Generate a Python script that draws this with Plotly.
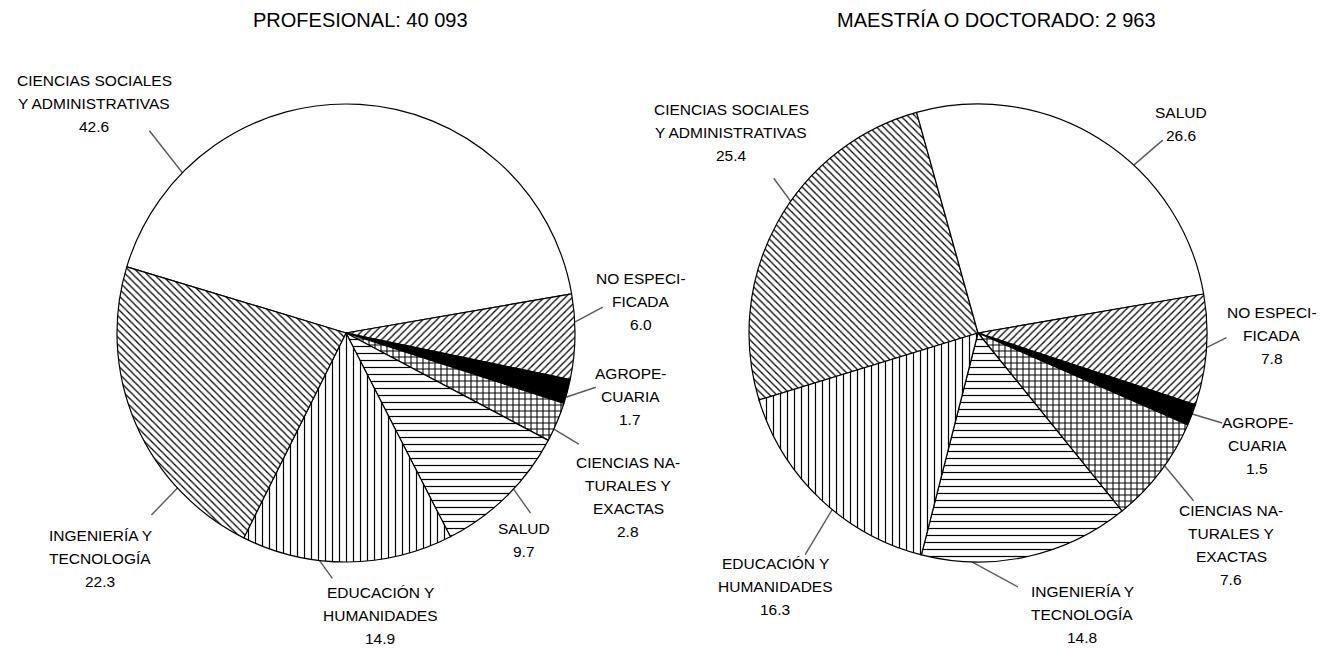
import math
import plotly.graph_objects as go

W, H = 1321, 648

# ---------------- data ----------------
prof_title = "PROFESIONAL: 40 093"
prof_categories = ["CIENCIAS SOCIALES\nY ADMINISTRATIVAS", "NO ESPECI-\nFICADA", "AGROPE-\nCUARIA",
                   "CIENCIAS NA-\nTURALES Y\nEXACTAS", "SALUD", "EDUCACIÓN Y\nHUMANIDADES",
                   "INGENIERÍA Y\nTECNOLOGÍA"]
prof_values = [42.6, 6.0, 1.7, 2.8, 9.7, 14.9, 22.3]

mae_title = "MAESTRÍA O DOCTORADO: 2 963"
mae_categories = ["CIENCIAS SOCIALES\nY ADMINISTRATIVAS", "SALUD", "NO ESPECI-\nFICADA", "AGROPE-\nCUARIA",
                  "CIENCIAS NA-\nTURALES Y\nEXACTAS", "INGENIERÍA Y\nTECNOLOGÍA", "EDUCACIÓN Y\nHUMANIDADES"]
mae_values = [25.4, 26.6, 7.8, 1.5, 7.6, 14.8, 16.3]

# ---------------- layout / style ----------------
FONT = "Liberation Sans, Arial, sans-serif"
LABEL_SIZE = 15.5
TITLE_SIZE = 20
LINE_STEP = 23
LEADER_COLOR = "#5a5a5a"

pies = [
    dict(title=prof_title, cats=prof_categories, vals=prof_values,
         cx=346, cy=333, r=229, rotation=-73.2, title_xy=(360, 20),
         shapes=["", "/", "", "+", "-", "|", "\\"],
         colors=["white", "white", "black", "white", "white", "white", "white"],
         leader_frac=[0.18, 0.33, 0.74, 0.69, 0.43, 0.63, 0.26],
         leader_vec=[(-33, -42), (28, -15), (30, -10), (25, 15), (17, 24), (13, 18), (-26, 27)],
         label_pos=[(94, 80), (641, 278), (630, 373), (628, 462), (524, 528), (380, 592), (100, 535)]),
    dict(title=mae_title, cats=mae_categories, vals=mae_values,
         cx=978, cy=333, r=229, rotation=-107.0, title_xy=(996, 20),
         shapes=["\\", "", "/", "", "+", "-", "|"],
         colors=["white", "white", "white", "black", "white", "white", "white"],
         leader_frac=[0.57, 0.61, 0.48, 0.45, 0.43, 0.76, 0.43],
         leader_vec=[(-17, -23), (29, -25), (20, -10), (30, 9), (29, 35), (46, 25), (-27, 45)],
         label_pos=[(731, 109), (1181, 112), (1272, 312), (1257, 422), (1231, 510), (1082, 591), (775, 563)]),
]

PATTERN_SIZE = {"/": 5, "\\": 5, "|": 7, "-": 7, "+": 6, "": 8}
PATTERN_SOLID = {"/": 0.25, "\\": 0.25, "|": 0.17, "-": 0.17, "+": 0.32, "": 0.3}

fig = go.Figure()
annotations = []

for p in pies:
    cx, cy, r = p["cx"], p["cy"], p["r"]
    fig.add_trace(go.Pie(
        labels=[c.replace("\n", " ") for c in p["cats"]],
        values=p["vals"],
        sort=False,
        direction="clockwise",
        rotation=p["rotation"],
        textinfo="none",
        hoverinfo="label+value",
        showlegend=False,
        domain=dict(x=[(cx - r) / W, (cx + r) / W], y=[1 - (cy + r) / H, 1 - (cy - r) / H]),
        marker=dict(
            colors=p["colors"],
            line=dict(color="black", width=1.2),
            pattern=dict(
                shape=p["shapes"],
                fgcolor="black",
                bgcolor="white",
                size=[PATTERN_SIZE[s] for s in p["shapes"]],
                solidity=[PATTERN_SOLID[s] for s in p["shapes"]],
                fillmode="replace",
            ),
        ),
    ))

    total = sum(p["vals"])
    cum = 0.0
    lx, ly = [], []
    for i, (cat, v) in enumerate(zip(p["cats"], p["vals"])):
        ang = math.radians(p["rotation"] + 360.0 * (cum + p["leader_frac"][i] * v) / total)
        sx = cx + r * math.sin(ang)
        sy = cy - r * math.cos(ang)
        ex = sx + p["leader_vec"][i][0]
        ey = sy + p["leader_vec"][i][1]
        lx += [sx, ex, None]
        ly += [sy, ey, None]
        cum += v

        tx, ty = p["label_pos"][i]
        lines = cat.split("\n") + [f"{v:.1f}"]
        for k, line in enumerate(lines):
            annotations.append(dict(
                x=tx, y=ty + k * LINE_STEP, xref="x", yref="y",
                text=line, showarrow=False,
                xanchor="center", yanchor="middle",
                font=dict(family=FONT, size=LABEL_SIZE, color="black"),
            ))

    fig.add_trace(go.Scatter(x=lx, y=ly, mode="lines", line=dict(color=LEADER_COLOR, width=1.4),
                             hoverinfo="skip", showlegend=False))

    annotations.append(dict(
        x=p["title_xy"][0], y=p["title_xy"][1], xref="x", yref="y",
        text=p["title"], showarrow=False, xanchor="center", yanchor="middle",
        font=dict(family=FONT, size=TITLE_SIZE, color="black"),
    ))

fig.update_layout(
    width=W, height=H,
    margin=dict(l=0, r=0, t=0, b=0),
    paper_bgcolor="white", plot_bgcolor="white",
    xaxis=dict(range=[0, W], visible=False, fixedrange=True),
    yaxis=dict(range=[H, 0], visible=False, fixedrange=True),
    annotations=annotations,
)

fig.write_html("out.html", config={"displayModeBar": False},
               post_script="document.body.style.margin='0';document.body.style.overflow='hidden';")
